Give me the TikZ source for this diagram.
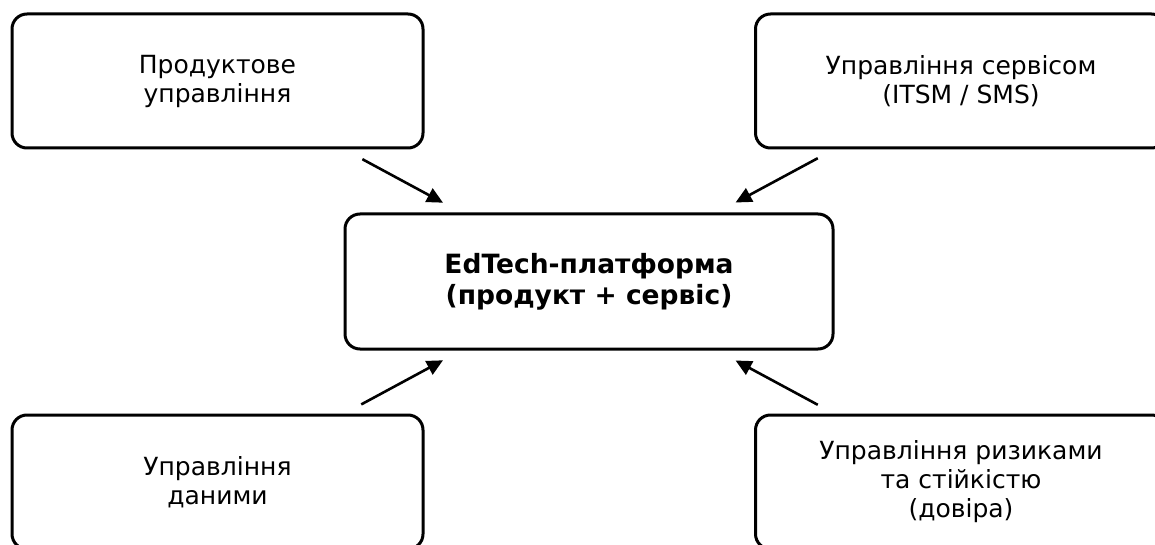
\documentclass[tikz,border=0pt]{standalone}
\usepackage{fontspec}
\setmainfont{DejaVu Sans}
\usetikzlibrary{calc,arrows.meta}
\tikzset{
  box/.style={draw=black, line width=3pt, rounded corners=15pt, align=center,
    font=\fontsize{25}{29}\selectfont, inner sep=0pt},
  sidebox/.style={box, minimum width=411pt, minimum height=134pt},
  arr/.style={line width=2.6pt, -{Triangle[length=16pt,width=15pt]}}
}
\begin{document}
\begin{tikzpicture}[x=1pt,y=-1pt]
\useasboundingbox (0,0) rectangle (1155,545);
\clip (0,0) rectangle (1155,545);
\node[sidebox] (tl) at (217.5,81) {Продуктове\\управління};
\node[sidebox] (tr) at (961,81) {Управління сервісом\\(ITSM / SMS)};
\node[sidebox] (bl) at (217.5,482) {Управління\\даними};
\node[sidebox] (br) at (961,482) {Управління ризиками\\та стійкістю\\(довіра)};
\node[box, minimum width=488pt, minimum height=135pt, font=\fontsize{26.5}{31}\selectfont\bfseries] (c) at (589,281.5) {EdTech-платформа\\(продукт + сервіс)};
\draw[arr] ($(tl.center)!0.39!(c.center)$) -- ($(tl.center)!0.607!(c.center)$);
\draw[arr] ($(tr.center)!0.385!(c.center)$) -- ($(tr.center)!0.606!(c.center)$);
\draw[arr] ($(bl.center)!0.387!(c.center)$) -- ($(bl.center)!0.607!(c.center)$);
\draw[arr] ($(br.center)!0.385!(c.center)$) -- ($(br.center)!0.606!(c.center)$);
\end{tikzpicture}
\end{document}
